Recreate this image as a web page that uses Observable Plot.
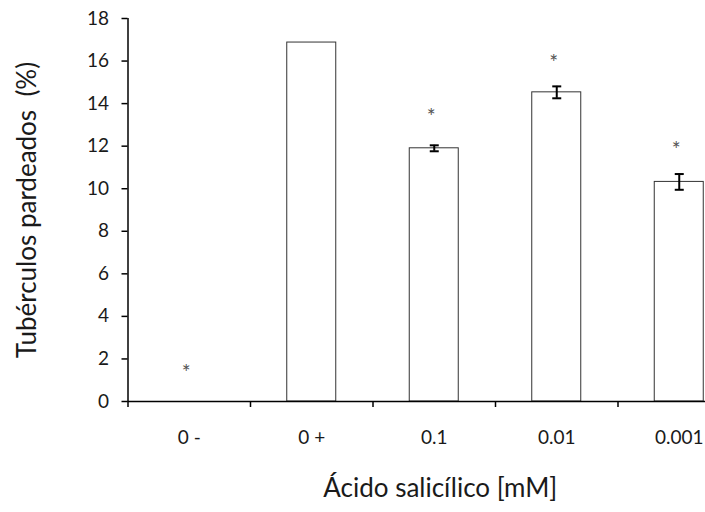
<!DOCTYPE html>
<html>
<head>
<meta charset="utf-8">
<script src="https://cdn.jsdelivr.net/npm/d3@7"></script>
<script src="https://cdn.jsdelivr.net/npm/@observablehq/plot@0.6"></script>
<style>
  html, body { margin: 0; padding: 0; background: white; overflow: hidden; }
  svg { max-width: none !important; }
</style>
</head>
<body>
<div id="chart"></div>
<script>
const categories = ["0 -", "0 +", "0.1", "0.01", "0.001"];
const values = [0, 16.87, 11.9, 14.53, 10.32];
const errors = [null, null, 0.14, 0.28, 0.37];
const stars = [1.6, null, 13.65, 16.2, 12.1];
const yTicks = [0, 2, 4, 6, 8, 10, 12, 14, 16, 18];
const yTitle = "Tubérculos pardeados\u00a0 (%)";
const xTitle = "Ácido salicílico [mM]";

const rows = categories.map((c, i) => ({i, c, v: values[i], e: errors[i], s: stars[i]}));
const bars = rows.filter(d => d.v > 0);
const errs = rows.filter(d => d.e != null);
const caps = errs.flatMap(d => [{i: d.i, y: d.v - d.e}, {i: d.i, y: d.v + d.e}]);
const starRows = rows.filter(d => d.s != null);

const capSymbol = {
  draw(ctx) { ctx.moveTo(-4.5, 0); ctx.lineTo(4.5, 0); }
};

const chart = Plot.plot({
  width: 740,
  height: 512,
  marginLeft: 127.5,
  marginRight: 0,
  marginTop: 18,
  marginBottom: 111,
  style: {fontFamily: "Lato, 'Open Sans', sans-serif", fontSize: "18px", color: "#1a1a1a", background: "white", maxWidth: "none"},
  x: {domain: [0, 5], axis: null},
  y: {domain: [0, 18], axis: null},
  marks: [
    Plot.rectY(bars, {x1: d => d.i + 0.3, x2: d => d.i + 0.7, y1: 0, y2: "v", fill: "white", stroke: "#333", strokeWidth: 1}),
    Plot.ruleX(errs, {x: d => d.i + 0.5, y1: d => d.v - d.e, y2: d => d.v + d.e, stroke: "black", strokeWidth: 2}),
    Plot.dot(caps, {x: d => d.i + 0.5, y: "y", symbol: capSymbol, stroke: "black", strokeWidth: 2, fill: "none"}),
    Plot.text(starRows, {x: d => d.i + 0.5, y: "s", text: () => "*", dx: -3, dy: 6, fontSize: 21, fill: "#555"}),
    Plot.ruleX([0], {y1: 0, y2: 18, stroke: "black", strokeWidth: 1.5}),
    Plot.ruleY([0], {stroke: "black", strokeWidth: 1.5}),
    Plot.axisY({ticks: yTicks, tickSize: 6, tickFormat: () => "", label: null, strokeWidth: 1.5, stroke: "black"}),
    Plot.text(yTicks, {x: 0, y: d => d, text: d => String(d), textAnchor: "end", dx: -19, fontSize: 19, fill: "#1a1a1a"}),
    Plot.axisX({ticks: d3.range(0, 6), tickSize: 6, tickFormat: () => "", label: null, strokeWidth: 1.5, stroke: "black"}),
    Plot.text(rows, {x: d => d.i + 0.5, y: 0, text: "c", dy: 36, fontSize: 19, fill: "#1a1a1a"}),
    Plot.text([yTitle], {frameAnchor: "left", textAnchor: "middle", dx: -100, rotate: -90, fontSize: 26, fill: "#1a1a1a"}),
    Plot.text([xTitle], {frameAnchor: "bottom", textAnchor: "middle", dy: 95, dx: 6, fontSize: 26, fill: "#1a1a1a"})
  ]
});
document.getElementById("chart").appendChild(chart);
</script>
</body>
</html>
